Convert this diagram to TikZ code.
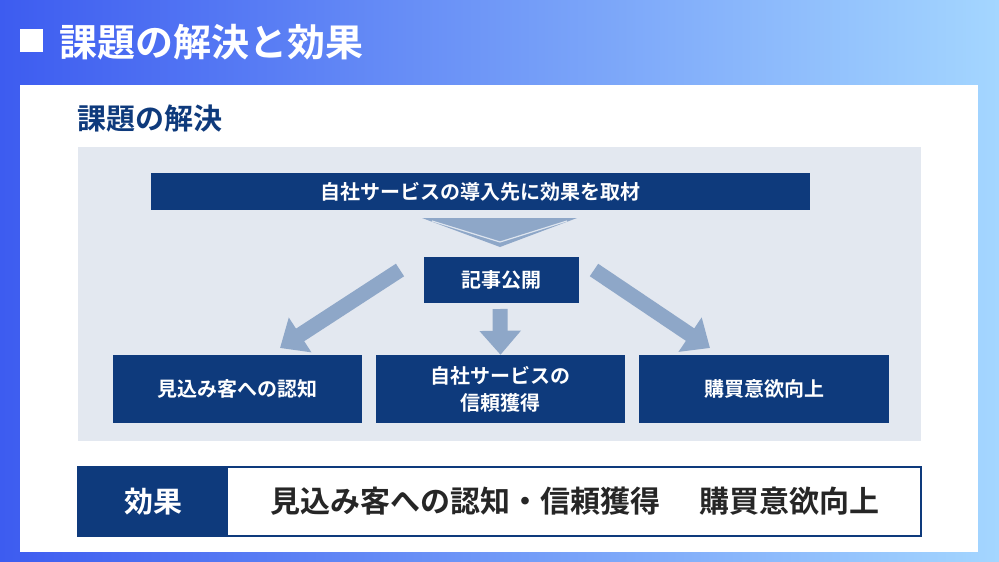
\documentclass[tikz,border=0pt]{standalone}
\usepackage{fontspec}
\setmainfont{Noto Sans CJK JP}[BoldFont={Noto Sans CJK JP Bold}]
\usetikzlibrary{positioning,calc,arrows.meta}
\definecolor{navy}{HTML}{0E3A7C}
\definecolor{panelgray}{HTML}{E3E8F0}
\definecolor{arrowblue}{HTML}{8EA7C8}
\definecolor{titleblue}{HTML}{3D5CF0}
\definecolor{skyblue}{HTML}{A4D6FF}
\tikzset{
  navybox/.style={fill=navy,text=white,font=\bfseries\fontsize{20pt}{27pt}\selectfont,align=center,inner sep=0pt},
  blockarrow/.style={draw=arrowblue,line width=15pt,-{Triangle[length=24pt,width=40pt]}}
}
\begin{document}
\begin{tikzpicture}[x=1pt,y=-1pt]
        % background and title band
        \shade[left color=titleblue,right color=skyblue] (0,0) rectangle (999,562);
        \fill[white] (20,85) rectangle (978,552);
        \fill[white] (20,29) rectangle (43,52);
        \node[anchor=west,text=white,font=\bfseries\fontsize{38pt}{44pt}\selectfont] (title) at (56,42) {課題の解決と効果};

        % section heading and panel
        \node[anchor=west,text=navy,font=\bfseries\fontsize{29pt}{34pt}\selectfont] (heading) at (74,119) {課題の解決};
        \fill[panelgray] (78,147) rectangle (921,441);

        % boxes
        \node[navybox,minimum width=659pt,minimum height=37pt] (interview) at (480.5,191.5) {自社サービスの導入先に効果を取材};
        \node[navybox,minimum width=155pt,minimum height=46pt] (publish) at (501.5,280) {記事公開};
        \node[navybox,minimum width=249pt,minimum height=68pt] (aware) at (237.5,389) {見込み客への認知};
        \node[navybox,minimum width=249pt,minimum height=68pt] (trust) at (500.5,389) {自社サービスの\\信頼獲得};
        \node[navybox,minimum width=250pt,minimum height=68pt] (buy) at (764,389) {購買意欲向上};

        % chevron under the top box
        \fill[arrowblue] (422,218) -- (577,218) -- (500,247) -- cycle;
        \draw[white!70!arrowblue,line width=1.2pt] (432,221) -- (500,242) -- (567,221);

        % arrows from publish
        \coordinate (lstart) at (400,270);
        \coordinate (lend) at (280,348);
        \coordinate (mstart) at (500,309);
        \coordinate (rstart) at (594,270);
        \coordinate (rend) at (710,348);
        \draw[blockarrow] (lstart) -- (lend);
        \draw[blockarrow] (mstart) -- (trust.north);
        \draw[blockarrow] (rstart) -- (rend);

        % effect bar
        \draw[navy,line width=2.5pt,fill=white] (78,467) rectangle (921,536);
        \fill[navy] (78,467) rectangle (228,536);
        \node[text=white,font=\bfseries\fontsize{29pt}{34pt}\selectfont] (effect) at (153,501.5) {効果};
        \node[text=black!85,font=\bfseries\fontsize{30pt}{35pt}\selectfont] (result) at (575,501.5) {見込み客への認知・信頼獲得\hspace{1.3em}購買意欲向上};
\end{tikzpicture}
\end{document}
